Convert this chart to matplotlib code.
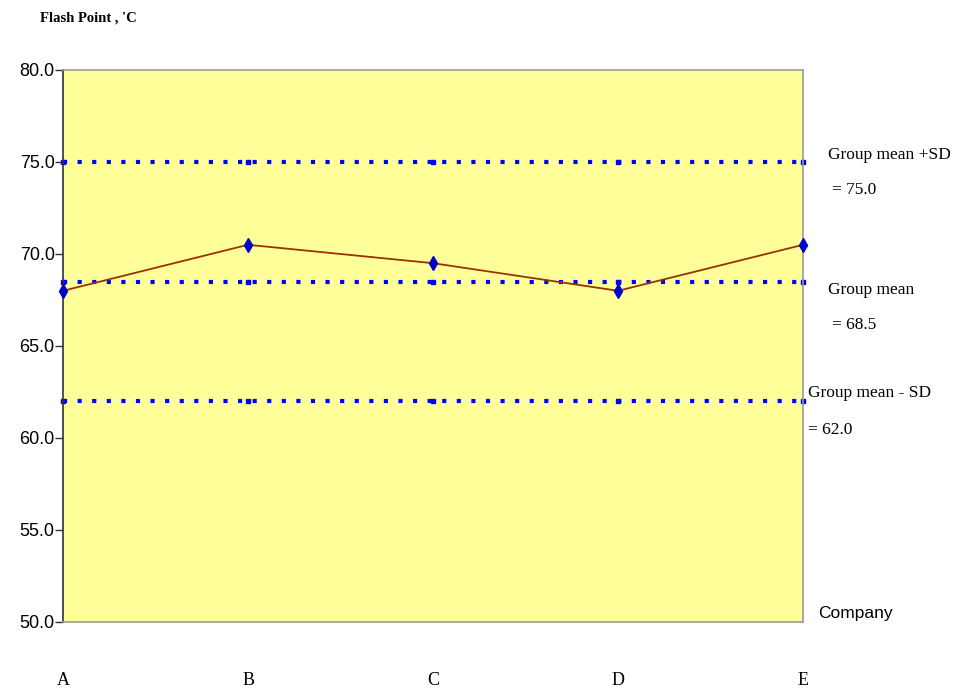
import matplotlib
matplotlib.use('Agg')
import matplotlib.pyplot as plt

companies = ['A', 'B', 'C', 'D', 'E']
flash_point = [68.0, 70.5, 69.5, 68.0, 70.5]
group_mean = 68.5
group_sd = 6.5
yticks = [50.0, 55.0, 60.0, 65.0, 70.0, 75.0, 80.0]

sans = 'Liberation Sans'
serif = 'Liberation Serif'

fig = plt.figure(figsize=(9.77, 6.91), dpi=100)
ax = fig.add_axes([0.0645, 0.0999, 0.7575, 0.7988])
ax.set_facecolor('#FFFF99')

x = list(range(len(companies)))
limits = [group_mean + group_sd, group_mean, group_mean - group_sd]
for level in limits:
    ax.plot(x, [level] * len(x), color='#0000FF', lw=3, ls=(0, (1, 2.5)),
            dash_capstyle='butt', marker='s', ms=3.5, mec='#0000FF', zorder=2,
            clip_on=False)

ax.plot(x, flash_point, color='#993300', lw=1.3, marker='d', ms=7.5,
        mfc='#0000CC', mec='#0000CC', zorder=3, clip_on=False)

ax.set_xlim(0, len(x) - 1)
ax.set_ylim(50, 80)
ax.set_yticks(yticks)
ax.set_yticklabels(['%.1f' % v for v in yticks], fontfamily=sans, fontsize=13)
ax.tick_params(axis='y', length=6, width=1, color='#333333', pad=0)
ax.set_xticks(x)
ax.set_xticklabels(companies, fontfamily=serif, fontsize=13)
ax.tick_params(axis='x', length=0, pad=36)

for side in ['top', 'right', 'bottom']:
    ax.spines[side].set_color('#999999')
ax.spines['left'].set_color('#333333')
for sp in ax.spines.values():
    sp.set_linewidth(1.2)

fig.text(0.041, 0.974, "Flash Point , 'C", fontfamily=serif, fontweight='bold',
         fontsize=10.5, va='center', ha='left')
fig.text(0.837, 0.112, 'Company', fontfamily=sans, fontsize=12.5, va='center', ha='left')

labels = [('Group mean +SD', 0.847, 0.775), ('= 75.0', 0.852, 0.725),
          ('Group mean', 0.847, 0.58), ('= 68.5', 0.852, 0.529),
          ('Group mean - SD', 0.827, 0.431), ('= 62.0', 0.827, 0.377)]
for text, tx, ty in labels:
    fig.text(tx, ty, text, fontfamily=serif, fontsize=12.5, va='center', ha='left')

fig.savefig('out.png', dpi=100)
